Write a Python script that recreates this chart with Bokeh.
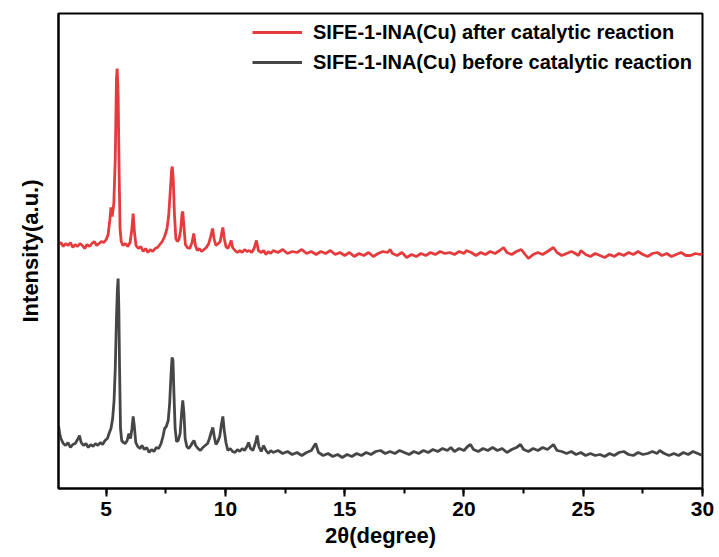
from bokeh.plotting import figure
from bokeh.models import Range1d, SingleIntervalTicker, FixedTicker, Legend, LegendItem
from bokeh.embed import file_html
from bokeh.resources import INLINE

# 2-theta (degree) and intensity (a.u., plotted with vertical offset)
after_x = [3.0, 3.1, 3.2, 3.3, 3.4, 3.5, 3.6, 3.7, 3.8, 3.9, 4.0, 4.1, 4.2, 4.3, 4.4, 4.5, 4.6, 4.7, 4.8, 4.9,
           5.0, 5.08, 5.15, 5.2, 5.25, 5.32, 5.38, 5.43, 5.46, 5.5, 5.54, 5.58, 5.63, 5.7, 5.8, 5.9, 6.0, 6.07,
           6.13, 6.19, 6.25, 6.35, 6.45, 6.55, 6.65, 6.75, 6.85, 6.95, 7.05, 7.15, 7.25, 7.35, 7.45, 7.55, 7.62,
           7.68, 7.74, 7.77, 7.81, 7.86, 7.92, 7.98, 8.05, 8.12, 8.18, 8.21, 8.26, 8.32, 8.4, 8.5, 8.6, 8.67,
           8.74, 8.82, 8.9, 9.0, 9.1, 9.2, 9.3, 9.38, 9.46, 9.52, 9.6, 9.7, 9.78, 9.84, 9.89, 9.95, 10.02, 10.1,
           10.18, 10.24, 10.3, 10.4, 10.5, 10.6, 10.7, 10.8, 10.9, 11.0, 11.1, 11.2, 11.3, 11.38, 11.5, 11.6,
           11.7, 11.8, 11.9, 12.0, 12.2, 12.4, 12.6, 12.8, 13.0, 13.2, 13.4, 13.6, 13.8, 14.0, 14.2, 14.4, 14.6,
           14.8, 15.0, 15.2, 15.4, 15.6, 15.8, 16.0, 16.2, 16.4, 16.6, 16.8, 16.9, 17.0, 17.2, 17.4, 17.6, 17.8,
           18.0, 18.2, 18.4, 18.6, 18.8, 19.0, 19.2, 19.4, 19.6, 19.8, 20.0, 20.1, 20.3, 20.5, 20.7, 20.9, 21.1,
           21.3, 21.5, 21.66, 21.8, 22.0, 22.2, 22.4, 22.6, 22.7, 22.9, 23.1, 23.3, 23.5, 23.75, 23.9, 24.1,
           24.3, 24.5, 24.6, 24.8, 24.9, 25.1, 25.3, 25.5, 25.7, 25.9, 26.1, 26.3, 26.5, 26.7, 26.9, 27.1, 27.3,
           27.5, 27.7, 27.9, 28.1, 28.3, 28.5, 28.7, 28.9, 29.1, 29.3, 29.5, 29.7, 29.9, 30.0]
after_y = [244, 246, 242, 245, 243, 246, 241, 244, 242, 245, 243, 240, 244, 242, 245, 247, 243, 245, 247, 246,
           249, 254, 268, 281, 272, 285, 330, 410, 420, 395, 320, 260, 247, 243, 245, 242, 246, 258,
           275, 255, 243, 240, 242, 237, 240, 236, 239, 237, 240, 241, 244, 247, 252, 260, 273,
           295, 318, 322, 310, 275, 250, 247, 249, 258, 275, 277, 262, 244, 241, 240, 246, 255,
           243, 238, 240, 237, 239, 241, 245, 252, 260, 250, 243, 245, 247, 255, 261, 250, 242, 240,
           244, 248, 241, 238, 236, 238, 236, 239, 237, 238, 236, 240, 248, 238, 236, 238,
           234, 237, 235, 238, 236, 239, 235, 237, 236, 239, 235, 237, 234, 237, 235, 238, 234,
           236, 233, 236, 232, 235, 233, 236, 232, 235, 237, 236, 239, 235, 233, 236, 231, 234,
           232, 235, 233, 236, 234, 237, 235, 236, 234, 237, 235, 238, 236, 233, 236, 234, 237,
           235, 238, 241, 236, 234, 237, 239, 233, 230, 234, 236, 234, 237, 241, 236, 233,
           235, 237, 236, 233, 238, 234, 232, 235, 233, 231, 234, 232, 235, 233, 236, 234, 237,
           234, 232, 235, 236, 233, 235, 232, 234, 236, 233, 233, 235, 234, 235]

before_x = [3.0, 3.05, 3.1, 3.2, 3.3, 3.4, 3.5, 3.6, 3.7, 3.8, 3.88, 3.95, 4.05, 4.15, 4.25, 4.35, 4.45, 4.55,
            4.65, 4.75, 4.85, 4.95, 5.05, 5.12, 5.2, 5.27, 5.33, 5.38, 5.43, 5.47, 5.5, 5.53, 5.56, 5.6, 5.65,
            5.72, 5.8, 5.88, 5.95, 6.02, 6.08, 6.13, 6.18, 6.24, 6.32, 6.42, 6.5, 6.6, 6.7, 6.8, 6.9, 7.0, 7.1,
            7.2, 7.3, 7.38, 7.45, 7.52, 7.6, 7.66, 7.72, 7.76, 7.8, 7.84, 7.89, 7.95, 8.02, 8.1, 8.16, 8.21,
            8.26, 8.31, 8.38, 8.46, 8.55, 8.62, 8.68, 8.75, 8.85, 8.95, 9.05, 9.15, 9.25, 9.33, 9.4, 9.47, 9.53,
            9.6, 9.68, 9.76, 9.83, 9.89, 9.95, 10.02, 10.1, 10.2, 10.3, 10.4, 10.5, 10.6, 10.7, 10.8, 10.9,
            10.97, 11.05, 11.15, 11.25, 11.33, 11.4, 11.5, 11.6, 11.7, 11.8, 11.9, 12.0, 12.2, 12.4, 12.6, 12.8,
            13.0, 13.2, 13.4, 13.6, 13.78, 13.9, 14.1, 14.3, 14.5, 14.7, 14.9, 15.1, 15.3, 15.5, 15.7, 15.9,
            16.1, 16.3, 16.5, 16.7, 16.9, 17.1, 17.3, 17.5, 17.7, 17.9, 18.1, 18.3, 18.5, 18.7, 18.9, 19.1,
            19.3, 19.45, 19.6, 19.8, 20.0, 20.15, 20.27, 20.4, 20.6, 20.8, 21.0, 21.2, 21.4, 21.6, 21.8, 22.0,
            22.2, 22.37, 22.5, 22.7, 22.9, 23.1, 23.3, 23.5, 23.75, 23.9, 24.1, 24.3, 24.5, 24.7, 24.9, 25.1,
            25.3, 25.5, 25.7, 25.9, 26.1, 26.3, 26.5, 26.7, 26.9, 27.1, 27.3, 27.5, 27.7, 27.9, 28.1, 28.2,
            28.4, 28.6, 28.8, 29.0, 29.2, 29.4, 29.6, 29.8, 30.0]
before_y = [63, 55, 50, 45, 43, 46, 41, 44, 45, 49, 53, 46, 43, 45, 41, 44, 42, 45,
            43, 46, 44, 48, 50, 55, 60, 70, 88, 120, 170, 200, 210, 180, 120, 60, 48,
            46, 45, 48, 55, 50, 60, 72, 62, 46, 42, 40, 43, 39, 41, 36, 39, 37, 41,
            40, 45, 52, 60, 62, 68, 85, 115, 131, 128, 95, 60, 47, 48, 55, 75, 88,
            75, 50, 42, 40, 43, 46, 48, 43, 40, 38, 41, 43, 45, 50, 56, 61, 52,
            44, 47, 52, 64, 72, 58, 46, 38, 40, 37, 36, 39, 37, 40, 38, 42,
            46, 40, 38, 45, 53, 42, 37, 43, 38, 35, 38, 36, 38, 35, 37, 34,
            36, 33, 36, 38, 45, 36, 33, 35, 32, 34, 31, 34, 32, 35, 33, 36,
            34, 37, 38, 35, 37, 35, 38, 36, 34, 37, 35, 38, 36, 39, 37, 40,
            38, 41, 37, 40, 38, 42, 44, 39, 37, 40, 38, 41, 38, 40, 36, 39,
            41, 44, 39, 37, 40, 38, 41, 39, 44, 38, 37, 35, 37, 34, 36, 33,
            35, 33, 34, 32, 35, 33, 36, 37, 34, 33, 36, 34, 35, 37, 35, 38,
            35, 33, 35, 33, 36, 34, 37, 35, 33]

labels = ["SIFE-1-INA(Cu) after catalytic reaction", "SIFE-1-INA(Cu) before catalytic reaction"]
x_title = "2θ(degree)"
y_title = "Intensity(a.u.)"

RED = "#e63b3d"
GREY = "#464646"
FONT = "Liberation Sans"

p = figure(width=719, height=557, output_backend="svg", toolbar_location=None,
           x_range=Range1d(3, 30), y_range=Range1d(0, 475),
           min_border_left=58, min_border_right=17, min_border_top=13, min_border_bottom=69)
p.grid.visible = False
p.outline_line_color = "black"
p.outline_line_width = 2
p.background_fill_color = "white"
p.border_fill_color = "white"

r_before = p.line(before_x, before_y, line_color=GREY, line_width=2.8)
r_after = p.line(after_x, after_y, line_color=RED, line_width=2.8)

xa = p.xaxis[0]
xa.ticker = SingleIntervalTicker(interval=5, num_minor_ticks=2)
xa.axis_label = x_title
xa.axis_label_text_font = FONT
xa.axis_label_text_font_style = "bold"
xa.axis_label_text_font_size = "22px"
xa.axis_label_text_color = "black"
xa.axis_label_standoff = 4
xa.major_label_text_font = FONT
xa.major_label_text_font_style = "bold"
xa.major_label_text_font_size = "21px"
xa.major_label_text_color = "black"
xa.major_label_standoff = 5
xa.major_tick_out = 8
xa.major_tick_in = 0
xa.minor_tick_out = 5
xa.minor_tick_in = 0
xa.axis_line_width = 2
xa.major_tick_line_width = 2
xa.minor_tick_line_width = 2
xa.axis_line_color = "black"
xa.major_tick_line_color = "black"
xa.minor_tick_line_color = "black"

ya = p.yaxis[0]
ya.ticker = FixedTicker(ticks=[])
ya.axis_label = y_title
ya.axis_label_text_font = FONT
ya.axis_label_text_font_style = "bold"
ya.axis_label_text_font_size = "22px"
ya.axis_label_text_color = "black"
ya.axis_label_standoff = 16
ya.major_tick_out = 0
ya.major_tick_in = 0
ya.minor_tick_out = 0
ya.minor_tick_in = 0
ya.major_label_standoff = 0
ya.axis_line_width = 2
ya.axis_line_color = "black"

legend = Legend(items=[LegendItem(label=labels[0], renderers=[r_after]),
                       LegendItem(label=labels[1], renderers=[r_before])],
                location=(194, 411))
legend.label_text_font = FONT
legend.label_text_font_style = "bold"
legend.label_text_font_size = "20px"
legend.label_text_color = "black"
legend.glyph_width = 50
legend.glyph_height = 30
legend.label_height = 30
legend.label_standoff = 11
legend.spacing = 0
legend.padding = 4
legend.margin = 0
legend.border_line_color = None
legend.background_fill_alpha = 0
p.add_layout(legend, "center")

open("out.html", "w").write(file_html(p, INLINE))
